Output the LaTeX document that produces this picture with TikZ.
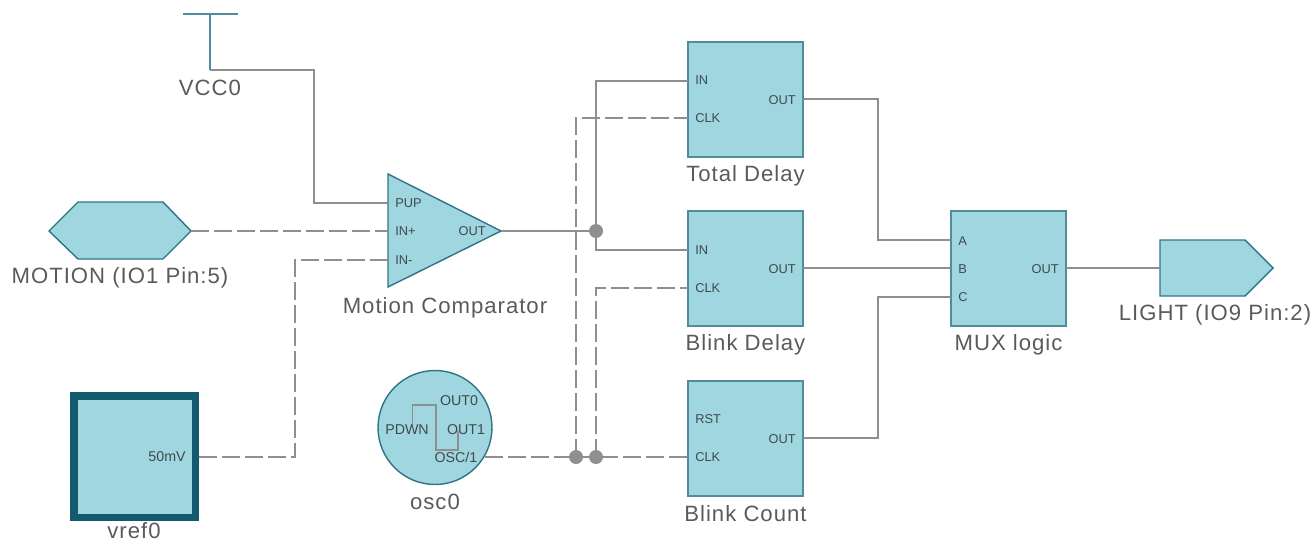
\documentclass[tikz,border=0pt]{standalone}
\usepackage{fontspec}
\setmainfont{Liberation Sans}
\usepackage{tikz}
\usetikzlibrary{positioning,calc}
\definecolor{partfill}{HTML}{9FD6E0}
\definecolor{partline}{HTML}{2F7486}
\definecolor{blockline}{HTML}{4F8D9E}
\definecolor{partdark}{HTML}{135A6E}
\definecolor{wire}{HTML}{8F8F8F}
\definecolor{captiontext}{HTML}{5A5A5A}
\definecolor{pintext}{HTML}{3F4A4E}
\tikzset{block/.style={draw=blockline,fill=partfill,line width=1pt,minimum size=2.3cm,inner sep=0pt}}
\tikzset{wirenet/.style={draw=wire,line width=1.1pt}}
\tikzset{clocknet/.style={wirenet,dash pattern=on 0.36cm off 0.1cm}}
\tikzset{junction/.style={fill=wire,circle,inner sep=0pt,minimum size=0.28cm}}
\tikzset{pinlabel/.style={text=pintext,font=\fontsize{7.3}{9}\selectfont,inner sep=0pt}}
\tikzset{pinwide/.style={text=pintext,font=\fontsize{8.1}{9}\selectfont,inner sep=0pt}}
\tikzset{partname/.style={text=captiontext,font=\fontsize{12.6}{14}\selectfont\addfontfeature{LetterSpace=4.5},inner sep=0pt}}

\begin{document}
\begin{tikzpicture}[x=0.02cm, y=-0.02cm]
        \useasboundingbox (0,0) rectangle (1312,541);
        % parts
        \node[block] (total) at (745.5,99.5) {};
        \node[block] (delay) at (745.5,268.5) {};
        \node[block] (count) at (745.5,438.5) {};
        \node[block] (mux) at (1008.5,268.5) {};
        \node[block,draw=partdark,line width=4.25pt,minimum size=2.43cm] (vref) at (134.7,456.5) {};
        \node[draw=partline,fill=partfill,line width=0.8pt,circle,minimum size=2.28cm,inner sep=0pt] (osc) at (435,427.5) {};
        \path[draw=partline,fill=partfill,line width=0.8pt] (388,174) coordinate (compA) -- (501,231) coordinate (compOut) -- (388,287) coordinate (compB) -- cycle;
        \path[draw=partline,fill=partfill,line width=0.8pt] (49,231) -- (78,202) -- (163,202) -- (191,231) coordinate (motionOut) -- (163,259) -- (78,259) -- cycle;
        \path[draw=partline,fill=partfill,line width=0.8pt] (1160,240) -- (1245,240) -- (1273,268) -- (1245,296) -- (1160,296) -- cycle;
        % pins
        \coordinate (vccLeft) at (183,14);
        \coordinate (vccRight) at (238,14);
        \coordinate (vccTop) at (210,14);
        \coordinate (vccEnd) at (210,70);
        \coordinate (compPup) at (388,203);
        \coordinate (compPlus) at (388,231);
        \coordinate (compMinus) at (388,260);
        \coordinate (lightIn) at (1160,268);
        \coordinate (vrefOut) at (199,457);
        \coordinate (oscOut) at (485,457);
        \coordinate (totalIn) at (688,81);
        \coordinate (totalClk) at (688,118);
        \coordinate (totalOut) at (803,99);
        \coordinate (delayIn) at (688,250);
        \coordinate (delayClk) at (688,288);
        \coordinate (delayOut) at (803,268);
        \coordinate (countClk) at (688,457);
        \coordinate (countOut) at (803,438);
        \coordinate (muxA) at (951,240);
        \coordinate (muxB) at (951,268);
        \coordinate (muxC) at (951,297);
        \coordinate (muxOut) at (1066,268);
        \coordinate (tapA) at (576,457);
        \coordinate (tapB) at (596,457);
        \coordinate (tapC) at (596,231);
        % dashed nets
        \draw[clocknet] (motionOut) -- (compPlus);
        \draw[clocknet] (vrefOut) -- (295,457) -- (295,260) -- (compMinus);
        \draw[clocknet] (oscOut) -- (countClk);
        \draw[clocknet] (tapA) -- (576,118) -- (totalClk);
        \draw[clocknet] (tapB) -- (596,288) -- (delayClk);
        % solid nets
        \draw[wirenet,draw=blockline] (vccLeft) -- (vccRight);
        \draw[wirenet,draw=blockline] (vccTop) -- (vccEnd);
        \draw[wirenet] (vccEnd) -- (314,70) -- (314,203) -- (compPup);
        \draw[wirenet] (compOut) -- (tapC);
        \draw[wirenet] (totalIn) -- (596,81) -- (596,250) -- (delayIn);
        \draw[wirenet] (totalOut) -- (878,99) -- (878,240) -- (muxA);
        \draw[wirenet] (delayOut) -- (muxB);
        \draw[wirenet] (countOut) -- (878,438) -- (878,297) -- (muxC);
        \draw[wirenet] (muxOut) -- (lightIn);
        \draw[wirenet] (412.5,425) -- (412.5,405) -- (436,405) -- (436,450) -- (458,450) -- (458,431);
        % joins
        \node[junction] (joinA) at (tapA) {};
        \node[junction] (joinB) at (tapB) {};
        \node[junction] (joinC) at (tapC) {};
        % pin texts
        \node[pinlabel,anchor=west] (t1) at (695,80) {IN};
        \node[pinlabel,anchor=west] (t2) at (695,118) {CLK};
        \node[pinlabel,anchor=east] (t3) at (796,100) {OUT};
        \node[pinlabel,anchor=west] (t4) at (695,250) {IN};
        \node[pinlabel,anchor=west] (t5) at (695,288) {CLK};
        \node[pinlabel,anchor=east] (t6) at (796,269) {OUT};
        \node[pinlabel,anchor=west] (t7) at (695,419) {RST};
        \node[pinlabel,anchor=west] (t8) at (695,457) {CLK};
        \node[pinlabel,anchor=east] (t9) at (796,439) {OUT};
        \node[pinlabel,anchor=west] (t10) at (958,241) {A};
        \node[pinlabel,anchor=west] (t11) at (958,269) {B};
        \node[pinlabel,anchor=west] (t12) at (958,297) {C};
        \node[pinlabel,anchor=east] (t13) at (1059,269) {OUT};
        \node[pinlabel,anchor=west] (t14) at (395,203) {PUP};
        \node[pinlabel,anchor=west] (t15) at (395,231) {IN+};
        \node[pinlabel,anchor=west] (t16) at (395,260) {IN-};
        \node[pinlabel,anchor=east] (t17) at (486,231) {OUT};
        \node[pinwide,anchor=east] (t18) at (186,457) {50mV};
        \node[pinwide] (t19) at (459,401) {OUT0};
        \node[pinwide] (t20) at (407,430) {PDWN};
        \node[pinwide] (t21) at (466,430) {OUT1};
        \node[pinwide] (t22) at (456,457) {OSC/1};
        % captions
        \node[partname] (vcc0) at (210,88) {VCC0};
        \node[partname] (motion) at (120,278) {MOTION (IO1 Pin:5)};
        \node[partname] (comparator) at (445,308) {Motion Comparator};
        \node[partname] (vref0) at (134,531) {vref0};
        \node[partname] (osc0) at (435,502) {osc0};
        \node[partname] (totalname) at (745.5,176) {Total Delay};
        \node[partname] (delayname) at (745.5,345) {Blink Delay};
        \node[partname] (countname) at (745.5,514) {Blink Count};
        \node[partname] (muxname) at (1008.5,345) {MUX logic};
        \node[partname] (light) at (1215,315) {LIGHT (IO9 Pin:2)};
\end{tikzpicture}
\end{document}
